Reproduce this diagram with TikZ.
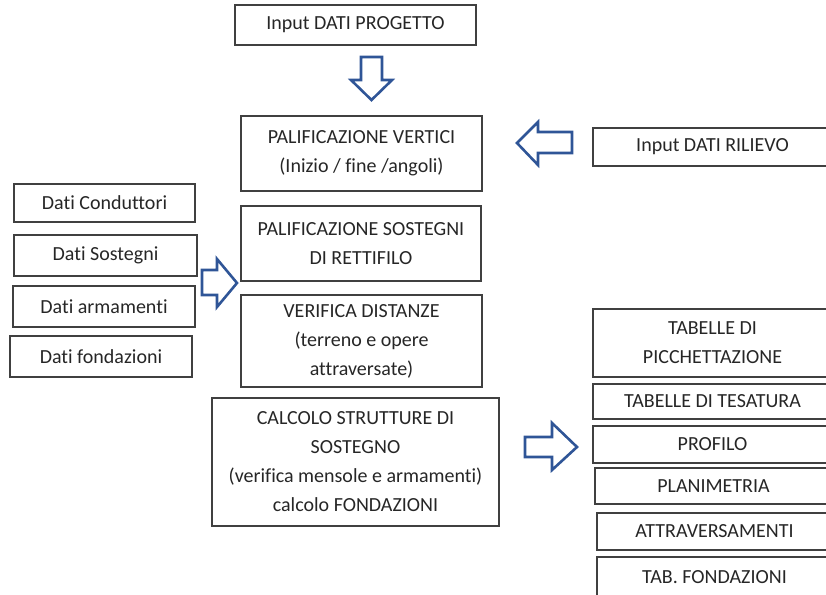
\documentclass[tikz,border=0pt]{standalone}
\usepackage{fontspec}
\setmainfont{Carlito}[Ligatures=NoCommon]
\definecolor{arrowblue}{HTML}{2F5597}
\definecolor{boxgray}{HTML}{404040}
\definecolor{textgray}{HTML}{262626}
\tikzset{
  box/.style={draw=boxgray, line width=1.3pt, align=center, inner sep=2pt, text=textgray, font=\fontsize{20}{29}\selectfont},
  blockarrow/.style={draw=arrowblue, line width=2.6pt, fill=white, line join=miter}
}
\begin{document}
\begin{tikzpicture}[x=1pt, y=-1pt]
  \useasboundingbox (0,0) rectangle (826,594);
  % Central column
  \node[box, minimum width=241, minimum height=40] (progetto) at (355.5,25) {Input DATI PROGETTO};
  \node[box, minimum width=241, minimum height=75] (vertici) at (361.5,153.5) {PALIFICAZIONE VERTICI\\(Inizio / fine /angoli)};
  \node[box, minimum width=240, minimum height=75] (sostegni) at (361,243.5) {PALIFICAZIONE SOSTEGNI\\DI RETTIFILO};
  \node[box, minimum width=241, minimum height=92] (distanze) at (361.5,341) {VERIFICA DISTANZE\\(terreno e opere\\attraversate)};
  \node[box, minimum width=287, minimum height=128] (calcolo) at (355.5,462) {CALCOLO STRUTTURE DI\\SOSTEGNO\\(verifica mensole e armamenti)\\calcolo FONDAZIONI};
  % Input data (left)
  \node[box, minimum width=181, minimum height=38] (conduttori) at (104.5,203) {Dati Conduttori};
  \node[box, minimum width=183, minimum height=41] (datisostegni) at (105.5,255.5) {Dati Sostegni};
  \node[box, minimum width=182, minimum height=41] (armamenti) at (104,306.5) {Dati armamenti};
  \node[box, minimum width=182, minimum height=41] (datifondazioni) at (101,356.5) {Dati fondazioni};
  % Survey input
  \node[box, minimum width=239, minimum height=38] (rilievo) at (712.5,147) {Input DATI RILIEVO};
  % Outputs (right)
  \node[box, minimum width=239, minimum height=68] (picchettazione) at (712.5,343) {TABELLE DI\\PICCHETTAZIONE};
  \node[box, minimum width=239, minimum height=35] (tesatura) at (712.5,401.5) {TABELLE DI TESATURA};
  \node[box, minimum width=239, minimum height=37] (profilo) at (712.5,444.5) {PROFILO};
  \node[box, minimum width=237, minimum height=36] (planimetria) at (713.5,486) {PLANIMETRIA};
  \node[box, minimum width=235, minimum height=37] (attraversamenti) at (714.5,531.5) {ATTRAVERSAMENTI};
  \node[box, minimum width=235, minimum height=40] (tabfondazioni) at (714.5,577) {TAB. FONDAZIONI};
  % Block arrows
  \draw[blockarrow] (361,57) -- (382,57) -- (382,80) -- (392,80) -- (371.5,100) -- (351,80) -- (361,80) -- cycle;
  \draw[blockarrow] (572,132) -- (538,132) -- (538,122) -- (517,143) -- (538,165) -- (538,153) -- (572,153) -- cycle;
  \draw[blockarrow] (202,270) -- (217,270) -- (217,259) -- (237,283) -- (217,307) -- (217,295) -- (202,295) -- cycle;
  \draw[blockarrow] (525,437) -- (552,437) -- (552,423) -- (577,447) -- (552,470) -- (552,457) -- (525,457) -- cycle;
\end{tikzpicture}
\end{document}
